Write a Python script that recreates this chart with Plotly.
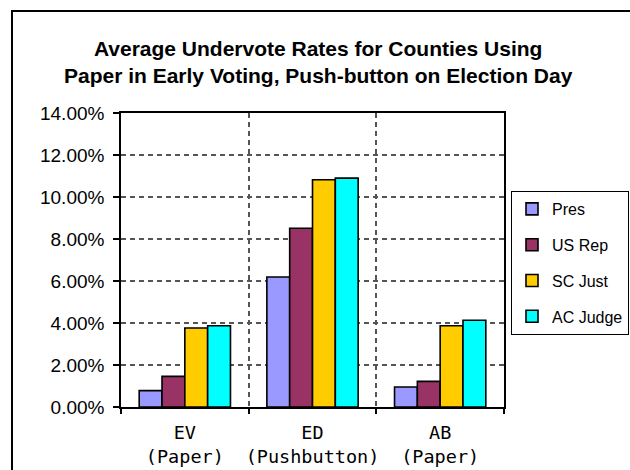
import plotly.graph_objects as go

categories = ["EV<br>(Paper)", "ED<br>(Pushbutton)", "AB<br>(Paper)"]
series_names = ["Pres", "US Rep", "SC Just", "AC Judge"]
pres = [0.0078, 0.0619, 0.0095]
us_rep = [0.0146, 0.0851, 0.0122]
sc_just = [0.0376, 0.1082, 0.0387]
ac_judge = [0.0387, 0.1090, 0.0413]
colors = ["#9999FF", "#993366", "#FFCC00", "#00FFFF"]

fig = go.Figure()
for i, (name, vals) in enumerate(zip(series_names, [pres, us_rep, sc_just, ac_judge])):
    fig.add_trace(go.Bar(
        x=categories, y=vals, name=name, legendgroup=name,
        marker=dict(color=colors[i], line=dict(color="black", width=1.6)),
    ))

W, H = 630, 470
L, R, T, B = 121, 504, 113, 407

fig.update_layout(
    width=W, height=H,
    margin=dict(l=L, r=W - R, t=T, b=H - B, pad=0, autoexpand=False),
    paper_bgcolor="white", plot_bgcolor="white",
    barmode="group", bargap=0.285, bargroupgap=0,
    title=dict(
        text="<b>Average Undervote Rates for Counties Using<br>Paper in Early Voting, Push-button on Election Day</b>",
        x=0.505, xref="container", xanchor="center",
        y=1 - 56 / H, yref="container", yanchor="middle",
        font=dict(family="Liberation Sans, Arial", size=21, color="black"),
    ),
    showlegend=True,
    legend=dict(
        x=(511 - L) / (R - L), xanchor="left",
        y=(B - 191) / (B - T), yanchor="top",
        bordercolor="black", borderwidth=1, bgcolor="white",
        font=dict(family="Liberation Sans, Arial", size=16, color="black"),
        traceorder="grouped", tracegroupgap=12,
        itemwidth=30,
    ),
    font=dict(family="Liberation Sans, Arial", color="black"),
)

fig.update_yaxes(
    range=[0, 0.14], dtick=0.02, tickformat=".2%",
    showgrid=True, gridcolor="#555555", gridwidth=1.5, griddash="5px,4px",
    showline=True, linecolor="black", linewidth=1.5, mirror=True,
    ticks="outside", ticklen=6, tickcolor="black", tickwidth=1.5,
    tickfont=dict(family="Liberation Sans, Arial", size=19, color="black"),
    ticklabelstandoff=5,
    zeroline=False,
)
fig.update_xaxes(
    tickson="boundaries", tickangle=0,
    showgrid=True, gridcolor="#555555", gridwidth=1.5, griddash="5px,4px",
    showline=True, linecolor="black", linewidth=1.5, mirror=True,
    ticks="outside", ticklen=5, tickcolor="black", tickwidth=1.5,
    tickfont=dict(family="DejaVu Sans Mono, monospace", size=18.5, color="black"),
    ticklabelstandoff=8,
)

# outer chart frame
fig.add_shape(
    type="rect", xref="paper", yref="paper", layer="below",
    x0=(12 - L) / (R - L), x1=(W + 10 - L) / (R - L),
    y0=(B - (H + 10)) / (B - T), y1=(B - 11) / (B - T),
    line=dict(color="black", width=2), fillcolor="rgba(0,0,0,0)",
)

fig.write_html("out.html")
